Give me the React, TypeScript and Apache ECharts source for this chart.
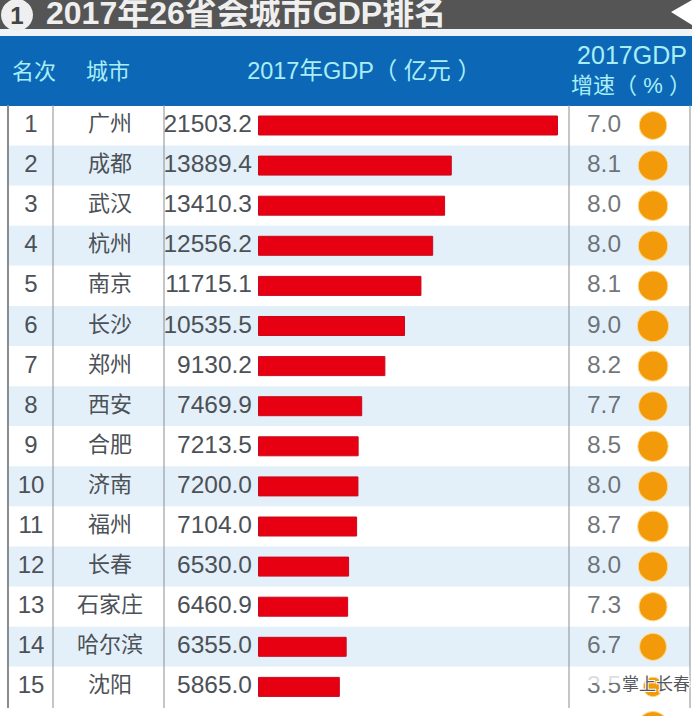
import React, { useEffect, useRef } from "react";
import * as echarts from "echarts";

const ranks = ["1","2","3","4","5","6","7","8","9","10","11","12","13","14","15"];
const cities = ["广州","成都","武汉","杭州","南京","长沙","郑州","西安","合肥","济南","福州","长春","石家庄","哈尔滨","沈阳"];
const gdp = [21503.2,13889.4,13410.3,12556.2,11715.1,10535.5,9130.2,7469.9,7213.5,7200.0,7104.0,6530.0,6460.9,6355.0,5865.0];
const growth = [7.0,8.1,8.0,8.0,8.1,9.0,8.2,7.7,8.5,8.0,8.7,8.0,7.3,6.7,3.5];
// the 16th row is cut off by the picture's edge: only the top of its circle shows
const cutOffRowGrowth = [8.8];
const title = "2017年26省会城市GDP排名";
const headers = ["名次","城市","2017年GDP（ 亿元 ）"];
const growthHeader = ["2017GDP","增速（ % ）"];
const watermark = "掌上长春";

const LATIN = '"Liberation Sans", "Noto Sans CJK SC", sans-serif';
const INK = "#4c5157";
const HEAD = "#a9eef6";
const ROW = 40.1;
const TOP = 105.45;
const TEXT_LIFT = 2;

export default function App() {
  const ref = useRef<HTMLDivElement>(null);
  useEffect(() => {
    const chart = echarts.init(ref.current!, undefined, { renderer: "svg" });
    const allGrowth = [...growth, ...cutOffRowGrowth];
    const vline = (x: number, w = 1) => ({
      type: "line", z: 10,
      shape: { x1: x, y1: 105, x2: x, y2: 708 },
      style: { stroke: "#8a8d90", lineWidth: w },
    });
    const headText = (text: string, x: number, y: number, size: number) => ({
      type: "text", z: 11, x, y,
      style: { text, fill: HEAD, font: `${size}px ${LATIN}`, textAlign: "center", textVerticalAlign: "middle" },
    });
    chart.setOption({
      animation: false,
      backgroundColor: "#ffffff",
      title: {
        text: title, left: 46, top: -3, padding: 0, z: 12,
        textStyle: { color: "#efefef", fontSize: 32, fontWeight: "bold", fontFamily: LATIN },
      },
      grid: [
        { left: 8, width: 682, top: TOP, height: ROW * 15 },
        { left: 258, width: 300, top: TOP, height: ROW * 15 },
        { left: 579.5, width: 98, top: TOP, height: ROW * 15 },
        { left: 258, width: 300, top: TOP - TEXT_LIFT, height: ROW * 15 },
      ],
      xAxis: [
        { gridIndex: 0, type: "value", show: false },
        { gridIndex: 1, type: "value", show: false, min: 0, max: Math.max(...gdp) },
        { gridIndex: 2, type: "category", show: false, data: ["value", "dot"] },
        { gridIndex: 3, type: "value", show: false },
      ],
      yAxis: [
        {
          gridIndex: 0, type: "category", inverse: true, data: ranks,
          axisLine: { show: false }, axisTick: { show: false }, axisLabel: { show: false },
          splitArea: { show: true, areaStyle: { color: ["#ffffff", "#e4f0f9"] } },
        },
        { gridIndex: 1, type: "category", inverse: true, data: cities, show: false },
        { gridIndex: 2, type: "value", inverse: true, min: -0.5, max: 14.5, show: false },
        {
          gridIndex: 3, type: "category", inverse: true, data: cities,
          axisLine: { show: false }, axisTick: { show: false },
          axisLabel: { interval: 0, margin: 148, align: "center", color: INK, fontSize: 22, fontFamily: LATIN },
        },
        {
          gridIndex: 3, type: "category", inverse: true, data: ranks, position: "left",
          axisLine: { show: false }, axisTick: { show: false },
          axisLabel: { interval: 0, margin: 227, align: "center", color: INK, fontSize: 24, fontFamily: LATIN },
        },
      ],
      series: [
        {
          type: "bar", xAxisIndex: 1, yAxisIndex: 1, data: gdp, barWidth: 20,
          itemStyle: { color: "#e60012", borderColor: "#c80a1e", borderWidth: 1 },
          label: {
            show: true, position: "left", distance: 6, offset: [0, -TEXT_LIFT],
            color: INK, fontSize: 24.5, fontFamily: LATIN,
            formatter: (p: any) => Number(p.value).toFixed(1),
          },
        },
        {
          type: "scatter", xAxisIndex: 2, yAxisIndex: 2, clip: false,
          data: allGrowth.map((v, i) => [1, i, v]),
          symbolSize: (v: number[]) => 10.4 * Math.sqrt(v[2]),
          itemStyle: { color: "#f39a0b", opacity: 1, borderColor: "#fbd98a", borderWidth: 1 },
        },
        {
          type: "scatter", xAxisIndex: 2, yAxisIndex: 2,
          data: growth.map((v, i) => [0, i, v]),
          symbolSize: 1,
          itemStyle: { color: "transparent" },
          label: {
            show: true, position: "inside", offset: [0, -TEXT_LIFT],
            color: INK, fontSize: 24.5, fontFamily: LATIN,
            formatter: (p: any) => Number(p.value[2]).toFixed(1),
          },
        },
      ],
      graphic: [
        { type: "rect", z: 9, shape: { x: 0, y: 0, width: 692, height: 29 }, style: { fill: "#555555" } },
        { type: "rect", z: 9, shape: { x: 0, y: 29, width: 692, height: 7 }, style: { fill: "#eef4f8" } },
        { type: "rect", z: 9, shape: { x: 0, y: 36, width: 692, height: 70 }, style: { fill: "#0c68b6" } },
        { type: "circle", z: 11, shape: { cx: 17, cy: 15, r: 16 }, style: { fill: "#efefef" } },
        { type: "text", z: 12, x: 17, y: 15, style: { text: "1", fill: "#444444", font: `bold 24px ${LATIN}`, textAlign: "center", textVerticalAlign: "middle" } },
        { type: "polygon", z: 11, shape: { points: [[692, 0], [692, 25], [671, 12]] }, style: { fill: "#ffffff" } },
        headText(headers[0], 34, 71, 22),
        headText(headers[1], 108, 71, 22),
        headText(headers[2], 364, 71, 23.5),
        headText(growthHeader[0], 632, 55, 25),
        headText(growthHeader[1], 631, 85, 22),
        vline(8, 2), vline(53), vline(164), vline(569), vline(690),
        { type: "rect", z: 11, shape: { x: 588, y: 672, width: 32, height: 11 }, style: { fill: "rgba(255,255,255,0.75)" } },
        { type: "text", z: 12, x: 622, y: 682, style: { text: watermark, fill: "#55595d", font: `17px "Noto Sans CJK SC", sans-serif`, textAlign: "left", textVerticalAlign: "middle", stroke: "#ffffff", lineWidth: 2 } },
      ],
    });
    return () => chart.dispose();
  }, []);
  return <div ref={ref} style={{ position: "absolute", left: 0, top: 0, width: 692, height: 716 }} />;
}
